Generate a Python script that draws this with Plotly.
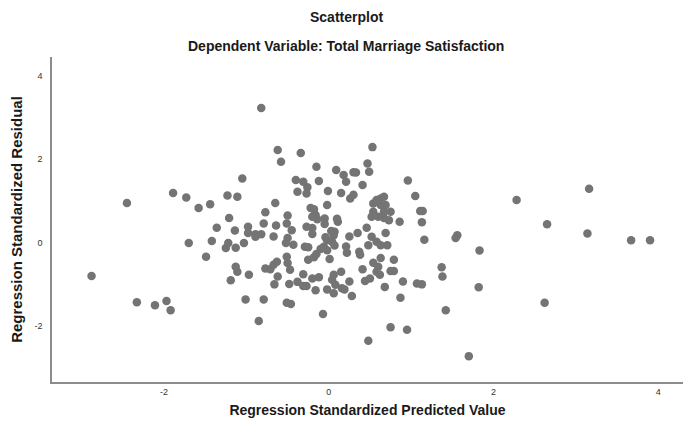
import plotly.graph_objects as go

# Regression standardized predicted value (x) and residual (y)
pred_value = [
    -2.88, -2.45, -2.33, -2.11, -1.97, -1.92, -1.89, -1.73, -1.58, -1.44,
    -1.70, -1.49, -1.42, -1.36, -1.21, -1.23, -1.11, -1.05, -0.82, -0.62,
    -0.58, -0.34, -1.14, -0.98, -0.98, -0.89, -0.82, -0.79, -0.77, -0.65,
    -0.64, -0.67, -0.50, -0.51, -0.45, -0.50, -0.52, -0.43, -1.25, -1.22,
    -1.13, -1.03, -1.13, -1.11, -1.19, -0.97, -1.01, -0.79, -0.85, -0.77,
    -0.71, -0.67, -0.63, -0.62, -0.66, -0.51, -0.50, -0.47, -0.48, -0.38,
    -0.31, -0.27, -0.16, -0.20, -0.12, -0.31, -0.25, -0.18, 0.01, -0.02,
    -0.51, -0.46, -0.07, -0.29, -0.25, -0.10, -0.06, -0.02, -0.02, 0.04,
    -0.04, -0.40, -0.31, -0.26, -0.38, -0.27, -0.15, -0.12, -0.01, -0.02,
    -0.22, -0.18, -0.16, -0.14, -0.05, -0.05, -0.27, -0.20, -0.20, 0.03,
    0.09, 0.18, 0.21, 0.30, 0.33, 0.47, 0.49, 0.53, 0.41, 0.15,
    0.30, 0.26, 0.11, 0.10, 0.07, 0.25, 0.35, 0.46, 0.52, 0.48,
    0.21, 0.07, 0.54, 0.63, 0.67, 0.58, 0.69, 0.63, 0.75, 0.54,
    0.67, 0.52, 0.60, 0.67, 0.73, 0.69, 0.58, 0.63, 0.71, 0.96,
    1.05, 1.11, 1.14, 1.13, 1.16, 0.86, 2.28, 2.65, 3.16, 3.14,
    3.67, 3.90, 1.54, 1.56, 1.83, 2.62, 1.82, 1.37, 1.38, 1.42,
    1.70, 0.95, 0.75, 0.48, 0.87, 0.90, 1.07, 1.13, 0.79, 0.75,
    0.79, 0.68, 0.63, 0.60, 0.58, 0.62, 0.54, 0.41, 0.44, 0.50,
    0.25, 0.28, 0.15, 0.06, 0.04, 0.08, 0.06, 0.16, 0.22, 0.37,
    0.38, 0.19, 0.06, -0.15, -0.89, -0.20,
]
std_residual = [
    -0.80, 0.95, -1.43, -1.50, -1.40, -1.62, 1.19, 1.08, 0.83, 0.92,
    -0.01, -0.34, 0.04, 0.36, 0.59, 1.13, 1.10, 1.54, 3.23, 2.22,
    1.94, 2.15, 0.29, 0.38, 0.23, 0.20, 0.20, 0.46, 0.73, 0.95,
    0.41, 0.15, 0.65, 0.46, 0.30, 0.11, -0.01, -0.05, -0.13, -0.01,
    -0.12, -0.01, -0.58, -0.70, -0.90, -0.77, -1.36, -1.36, -1.88, -0.62,
    -0.64, -0.53, -0.46, -0.81, -1.00, -0.34, -0.49, -0.65, -0.99, -0.94,
    -1.04, -1.04, -1.14, -0.86, -0.83, -0.76, -0.41, -0.35, -0.39, -1.12,
    -1.44, -1.47, -1.71, -0.10, -0.11, -0.15, -0.10, -0.18, 0.06, 0.02,
    0.13, 1.50, 1.46, 1.33, 1.22, 1.18, 1.82, 1.48, 1.24, 0.90,
    0.83, 0.80, 0.66, 0.56, 0.58, 0.45, 0.38, 0.35, 0.21, 0.28,
    1.74, 1.62, 1.46, 1.69, 1.68, 1.90, 1.70, 2.29, 1.38, 1.19,
    1.15, 1.06, 0.50, 0.57, 0.26, 0.15, 0.23, 0.36, 0.14, -0.06,
    -0.09, -0.07, 0.94, 1.06, 1.10, 1.02, 0.90, 0.90, 0.74, 0.74,
    0.74, 0.62, 0.62, 0.59, 0.54, 0.23, 0.02, -0.06, -0.06, 1.49,
    1.12, 0.76, 0.76, 0.49, 0.07, 0.50, 1.02, 0.44, 1.29, 0.22,
    0.06, 0.06, 0.11, 0.18, -0.19, -1.44, -1.07, -0.59, -0.81, -1.62,
    -2.72, -2.09, -2.03, -2.35, -1.32, -0.93, -0.98, -1.00, -0.41, -0.68,
    -0.68, -1.06, -0.37, -0.58, -0.70, -0.77, -0.48, -0.64, -0.92, -0.86,
    -0.93, -1.28, -0.70, -0.77, -0.89, -1.01, -1.21, -1.09, -0.24, -0.22,
    -0.29, -1.12, 0.18, -0.27, 0.14, 0.62,
]

x_ticks = [-2, 0, 2, 4]
y_ticks = [-2, 0, 2, 4]

title_main = "Scatterplot"
title_sub = "Dependent Variable: Total Marriage Satisfaction"
x_title = "Regression Standardized Predicted Value"
y_title = "Regression Standardized Residual"

FONT = "Liberation Sans, Arial, sans-serif"

fig = go.Figure()
fig.add_trace(go.Scatter(
    x=pred_value, y=std_residual, mode="markers",
    marker=dict(size=8.5, color="#747474", line=dict(width=0)),
    hoverinfo="x+y", showlegend=False,
))

fig.update_layout(
    width=686, height=425,
    margin=dict(l=52, r=3, t=57, b=43),
    paper_bgcolor="white", plot_bgcolor="white",
    font=dict(family=FONT, color="#222222"),
    annotations=[
        dict(text="<b>%s</b>" % title_main, xref="paper", yref="paper",
             x=0.466, y=1.123, xanchor="center", yanchor="middle",
             showarrow=False, font=dict(size=14, color="#1a1a1a", family=FONT)),
        dict(text="<b>%s</b>" % title_sub, xref="paper", yref="paper",
             x=0.466, y=1.034, xanchor="center", yanchor="middle",
             showarrow=False, font=dict(size=14, color="#1a1a1a", family=FONT)),
    ],
)

fig.update_xaxes(
    range=[-3.36, 4.30], tickvals=x_ticks, ticktext=[str(v) for v in x_ticks],
    showgrid=False, zeroline=False, showline=True, linecolor="#8c8c8c", linewidth=1.5,
    ticks="",
    tickfont=dict(size=9, color="#333333", family=FONT),
    title=dict(text="<b>%s</b>" % x_title, font=dict(size=14, color="#1a1a1a", family=FONT), standoff=10),
)
fig.update_yaxes(
    range=[-3.34, 4.45], tickvals=y_ticks, ticktext=[str(v) for v in y_ticks],
    showgrid=False, zeroline=False, showline=True, linecolor="#8c8c8c", linewidth=1.5,
    ticks="outside", ticklen=6, tickcolor="rgba(0,0,0,0)",
    tickfont=dict(size=9, color="#333333", family=FONT),
    title=dict(text="<b>%s</b>" % y_title, font=dict(size=15, color="#1a1a1a", family=FONT), standoff=8),
)

fig.write_html("out.html")
